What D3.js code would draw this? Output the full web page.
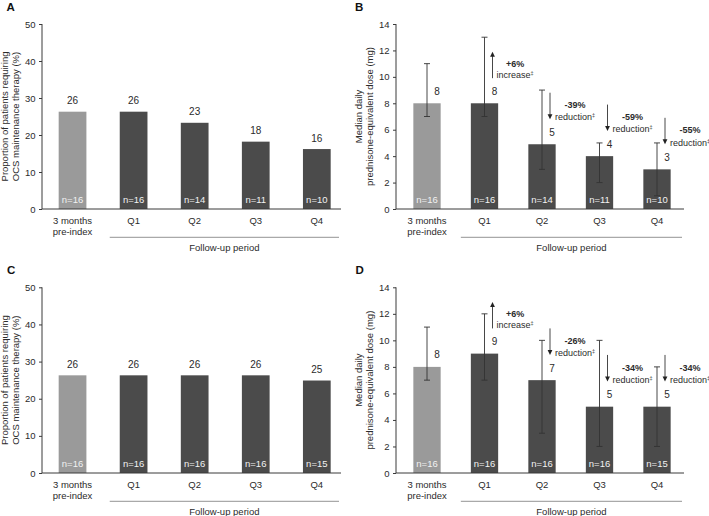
<!DOCTYPE html>
<html><head><meta charset="utf-8">
<script src="https://cdn.jsdelivr.net/npm/d3@7"></script>
<style>
body{margin:0;background:#fff;}
svg text{font-family: Arial, "Liberation Sans", sans-serif; fill:#2b2b2b;}
</style></head><body>
<svg id="chart" width="709" height="516"></svg>
<script>
// ---------- data ----------
const categories = ["3 months\npre-index", "Q1", "Q2", "Q3", "Q4"];
const groupLabel = "Follow-up period";
const propTicks = [0, 10, 20, 30, 40, 50];
const doseTicks = [0, 2, 4, 6, 8, 10, 12, 14];
const propTitle = ["Proportion of patients requiring", "OCS maintenance therapy (%)"];
const doseTitle = ["Median daily", "prednisone-equivalent dose (mg)"];

const propA = [26.3, 26.3, 23.3, 18.2, 16.2];
const nA = [16, 16, 14, 11, 10];

const doseB = [8, 8, 4.9, 4, 3];
const doseBLow = [7, 7, 3, 2, 1];
const doseBHigh = [11, 13, 9, 5, 5];
const changeB = ["", "+6%", "-39%", "-59%", "-55%"];
const nB = [16, 16, 14, 11, 10];

const propC = [26.3, 26.3, 26.3, 26.3, 24.9];
const nC = [16, 16, 16, 16, 15];

const doseD = [8, 9, 7, 5, 5];
const doseDLow = [7, 7, 3, 2, 2];
const doseDHigh = [11, 12, 10, 10, 8];
const changeD = ["", "+6%", "-26%", "-34%", "-34%"];
const nD = [16, 16, 16, 16, 15];

// ---------- style ----------
const LIGHT = "#9a9a9a", DARK = "#4b4b4b", INK = "#2b2b2b", AXIS = "#3a3a3a";
const svg = d3.select("#chart");
const fmt = d3.format(".0f");

function panel(o) {
  const g = svg.append("g");
  const x = d3.scaleBand().domain(categories).range(o.bandRange)
    .paddingInner(o.pad).paddingOuter(o.pad / 2);
  const y = d3.scaleLinear().domain([0, o.yMax]).range(o.yRange);
  const bw = x.bandwidth();
  const y0 = y(0), yTop = y(o.yMax);

  // letter
  g.append("text").attr("x", o.letterX).attr("y", yTop - 13)
    .style("font-size", "11.5px").style("font-weight", "bold").style("fill", "#111").text(o.letter);

  // bars
  g.selectAll("rect.bar").data(o.values).join("rect")
    .attr("x", (d, i) => x(categories[i]))
    .attr("y", d => y(d))
    .attr("width", bw)
    .attr("height", d => y0 - y(d))
    .attr("fill", (d, i) => i === 0 ? LIGHT : DARK);

  // y axis
  const ya = g.append("g").attr("transform", `translate(${o.axisX},0)`)
    .call(d3.axisLeft(y).tickValues(o.ticks).tickSize(3).tickPadding(3.5));
  ya.select(".domain").remove();
  ya.selectAll(".tick line").attr("stroke", AXIS);
  ya.selectAll(".tick text").style("font-size", "9.5px").style("fill", INK)
    .style("font-family", "Arial, 'Liberation Sans', sans-serif");
  g.append("line").attr("x1", o.axisX).attr("x2", o.axisX).attr("y1", yTop).attr("y2", y0)
    .attr("stroke", AXIS).attr("stroke-width", 1);
  g.append("line").attr("x1", o.axisX).attr("x2", o.axisEnd).attr("y1", y0).attr("y2", y0)
    .attr("stroke", AXIS).attr("stroke-width", 1);

  // y title
  const ymid = (y0 + yTop) / 2;
  o.title.forEach((t, i) => {
    g.append("text").attr("transform", `translate(${o.axisX + [-34, -23.3][i]},${ymid}) rotate(-90)`)
      .attr("text-anchor", "middle").style("font-size", "9.5px").text(t);
  });

  // category labels
  categories.forEach(c => {
    c.split("\n").forEach((line, j) => {
      g.append("text").attr("x", x(c) + bw / 2).attr("y", y0 + 14.5 + j * 11.5)
        .attr("text-anchor", "middle").style("font-size", "9.5px").text(line);
    });
  });
  const lx1 = x("Q1") - 10, lx2 = o.axisEnd - 2;
  g.append("line").attr("x1", lx1).attr("x2", lx2).attr("y1", y0 + 28.3).attr("y2", y0 + 28.3)
    .attr("stroke", "#777").attr("stroke-width", 0.8);
  g.append("text").attr("x", (lx1 + lx2) / 2).attr("y", y0 + 41.5).attr("text-anchor", "middle")
    .style("font-size", "9.5px").text(groupLabel);

  // n labels
  o.ns.forEach((n, i) => {
    g.append("text").attr("x", x(categories[i]) + bw / 2).attr("y", y0 - 6)
      .attr("text-anchor", "middle").style("font-size", "9.5px").style("fill", "#f2f2f2").text("n=" + n);
  });

  // error bars
  if (o.low) {
    o.values.forEach((v, i) => {
      const cx = x(categories[i]) + bw / 2;
      const yl = y(o.low[i]), yh = y(o.high[i]);
      g.append("line").attr("x1", cx).attr("x2", cx).attr("y1", yh).attr("y2", yl).attr("stroke", "#333").attr("stroke-width", 0.9);
      [yl, yh].forEach(yy => g.append("line").attr("x1", cx - 3).attr("x2", cx + 3).attr("y1", yy).attr("y2", yy)
        .attr("stroke", "#333").attr("stroke-width", 0.9));
    });
  }

  // value labels
  o.values.forEach((v, i) => {
    const cx = x(categories[i]) + bw / 2 + (o.low ? 10 : 0);
    g.append("text").attr("x", cx).attr("y", y(v) - (o.low ? 8.5 : 7.5))
      .attr("text-anchor", "middle").style("font-size", "10px").text(fmt(v));
  });

  // change arrows
  if (o.changes) {
    o.changes.forEach((ch, i) => {
      if (!ch) return;
      const v = o.values[i];
      const ax = x(categories[i]) + bw / 2 + 8;
      const up = ch.startsWith("+");
      const yNear = y(v + 1.9), yFar = y(v + 3.9);
      const tip = up ? yFar : yNear, tail = up ? yNear : yFar;
      const dir = up ? 1 : -1; // base of head lies in this direction from tip
      g.append("line").attr("x1", ax).attr("x2", ax).attr("y1", tail).attr("y2", tip + dir * 4)
        .attr("stroke", "#333").attr("stroke-width", 0.9);
      g.append("path").attr("d", `M${ax},${tip} L${ax - 2.4},${tip + dir * 5} L${ax + 2.4},${tip + dir * 5} Z`)
        .attr("fill", "#222");
      const mid = (yNear + yFar) / 2;
      const wx = ax + (up ? 4 : 5);
      const wy = up ? tail : tip + 1.3;
      const w = g.append("text").attr("x", wx).attr("y", wy).style("font-size", "9px");
      w.append("tspan").text(up ? "increase" : "reduction");
      w.append("tspan").attr("dy", -3).style("font-size", "5.5px").text("‡");
      const wl = w.node().getComputedTextLength();
      g.append("text").attr("x", wx + wl / 2).attr("y", mid + (up ? 1.8 : 2.3))
        .attr("text-anchor", "middle").style("font-size", "9px").style("font-weight", "bold").text(ch);
    });
  }
}

const rowTop = [209, 24], rowBot = [473, 287.3];
panel({ letter: "A", letterX: 6.5, axisX: 42, bandRange: [42, 347.35], pad: 0.546, axisEnd: 341,
  yRange: rowTop, yMax: 50, ticks: propTicks, values: propA, ns: nA, title: propTitle });
panel({ letter: "B", letterX: 355, axisX: 396, bandRange: [398.25, 685.75], pad: 0.525, axisEnd: 684,
  yRange: rowTop, yMax: 14, ticks: doseTicks, values: doseB, ns: nB, low: doseBLow, high: doseBHigh,
  changes: changeB, title: doseTitle });
panel({ letter: "C", letterX: 7, axisX: 42, bandRange: [42, 347.35], pad: 0.546, axisEnd: 341,
  yRange: rowBot, yMax: 50, ticks: propTicks, values: propC, ns: nC, title: propTitle });
panel({ letter: "D", letterX: 355.5, axisX: 396, bandRange: [398.25, 685.75], pad: 0.525, axisEnd: 684,
  yRange: rowBot, yMax: 14, ticks: doseTicks, values: doseD, ns: nD, low: doseDLow, high: doseDHigh,
  changes: changeD, title: doseTitle });
</script>
</body></html>
